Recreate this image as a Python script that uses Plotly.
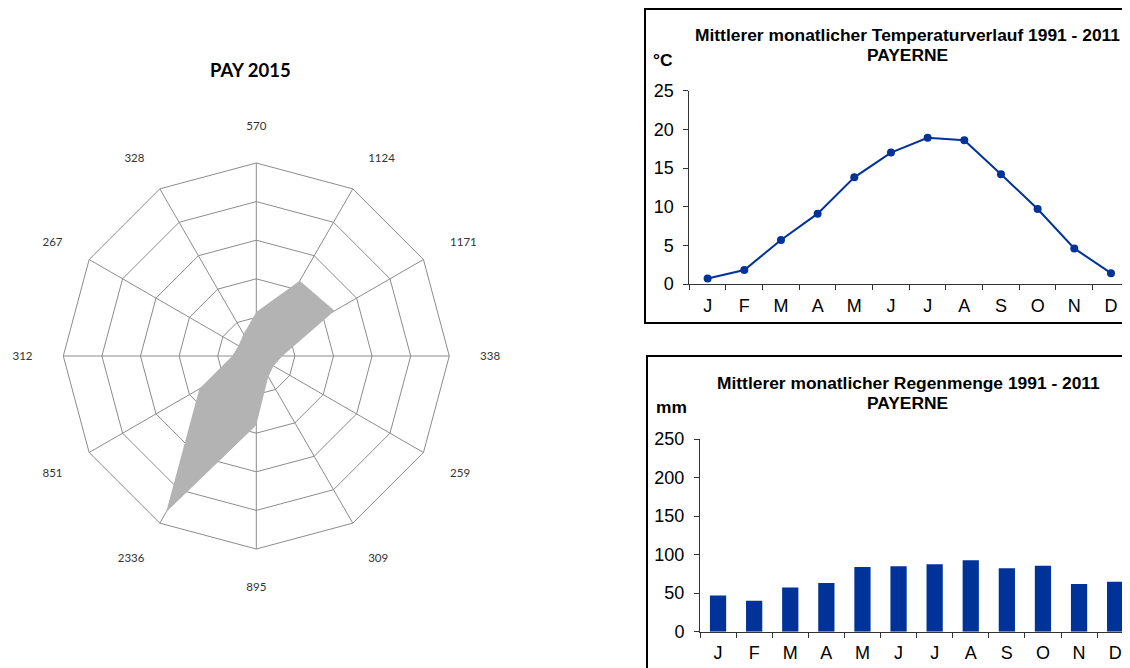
import plotly.graph_objects as go

# ---- data ----
radar_labels = ["570", "1124", "1171", "338", "259", "309", "895", "2336", "851", "312", "267", "328"]
radar_values = [570, 1124, 1171, 338, 259, 309, 895, 2336, 851, 312, 267, 328]

months = ["J", "F", "M", "A", "M ", "J ", "J  ", "A ", "S", "O", "N", "D"]
month_text = ["J", "F", "M", "A", "M", "J", "J", "A", "S", "O", "N", "D"]
temperature = [0.7, 1.8, 5.7, 9.1, 13.8, 17.0, 18.9, 18.6, 14.2, 9.7, 4.6, 1.4]
rainfall = [47.1, 40.2, 57.5, 63.1, 83.9, 84.8, 87.4, 92.6, 82.2, 85.6, 61.9, 64.9]

W, H = 1130, 668
OFF = 8  # page body margin


def px(x):
    return (x - OFF) / W


def py(y):
    return 1 - (y - OFF) / H


BLUE = "#003399"
GRID = "#8c8c8c"
ARIAL = "Liberation Sans, Arial, sans-serif"
CAL = "Lato, Open Sans, sans-serif"

fig = go.Figure()

# radar
fig.add_trace(go.Scatterpolar(
    r=radar_values, theta=radar_labels, fill="toself", mode="lines",
    line=dict(width=0, color="#b3b3b3"), fillcolor="#b3b3b3", subplot="polar",
    hoverinfo="r+theta"))

# temperature line
fig.add_trace(go.Scatter(
    x=months, y=temperature, mode="lines+markers",
    line=dict(color=BLUE, width=2), marker=dict(color=BLUE, size=8),
    xaxis="x", yaxis="y"))

# rainfall bars
fig.add_trace(go.Bar(
    x=months, y=rainfall, marker=dict(color=BLUE, line=dict(width=0)),
    width=0.45, xaxis="x2", yaxis="y2"))

R = 193
cx, cy = 256.3, 356
axis_common = dict(automargin=False, showgrid=False, zeroline=False, showline=True,
                   linecolor="#333", linewidth=1, ticks="outside", ticklen=5,
                   tickcolor="#333", tickfont=dict(family=ARIAL, size=18, color="black"))
fig.update_layout(
    template="none",
    width=W, height=H, margin=dict(l=0, r=0, t=0, b=0, pad=0),
    paper_bgcolor="white", plot_bgcolor="white", showlegend=False,
    polar=dict(
        domain=dict(x=[px(cx - R), px(cx + R)], y=[py(cy + R), py(cy - R)]),
        gridshape="linear", bgcolor="white",
        radialaxis=dict(range=[0, 2500], dtick=500, showticklabels=False,
                        ticks="", showline=False, gridcolor=GRID, gridwidth=1),
        angularaxis=dict(type="category", categoryarray=radar_labels,
                         direction="clockwise", rotation=90,
                         showline=True, linecolor=GRID, linewidth=1,
                         gridcolor=GRID, gridwidth=1,
                         ticks="outside", ticklen=28, tickcolor="rgba(0,0,0,0)",
                         tickfont=dict(family=CAL, size=11.5, color="#333333")),
    ),
    xaxis=dict(domain=[px(689.3), px(1129.3)], type="category", categoryarray=months,
               range=[-0.5, 11.5], tickson="boundaries", tickmode="array",
               tickvals=months, ticktext=month_text, anchor="y",
               ticklabelstandoff=5, **axis_common),
    yaxis=dict(domain=[py(284), py(90.7)], range=[0, 25], tickvals=[0, 5, 10, 15, 20, 25],
               anchor="x", ticklabelstandoff=6, **axis_common),
    xaxis2=dict(domain=[px(700), min(1.0, px(1133))], type="category", categoryarray=months,
                range=[-0.5, -0.5 + (min(1.0, px(1133)) - px(700)) * W / 36.1],
                tickson="boundaries", tickmode="array",
                tickvals=months, ticktext=month_text, anchor="y2",
                ticklabelstandoff=5, **axis_common),
    yaxis2=dict(domain=[py(631.7), py(439)], range=[0, 250], tickvals=[0, 50, 100, 150, 200, 250],
                anchor="x2", ticklabelstandoff=6, **axis_common),
)

shapes = [
    dict(type="rect", xref="paper", yref="paper", x0=px(645), x1=px(1145),
         y0=py(323), y1=py(9), line=dict(color="black", width=2), fillcolor="rgba(0,0,0,0)"),
    dict(type="rect", xref="paper", yref="paper", x0=px(647), x1=px(1145),
         y0=py(685), y1=py(356), line=dict(color="black", width=2), fillcolor="rgba(0,0,0,0)"),
]
fig.update_layout(shapes=shapes)


def ann(text, x, y, size, family=ARIAL, bold=True):
    t = "<b>%s</b>" % text if bold else text
    return dict(text=t, x=px(x), y=py(y), xref="paper", yref="paper",
                xanchor="center", yanchor="middle", showarrow=False,
                font=dict(family=family, size=size, color="black"))


fig.update_layout(annotations=[
    ann("PAY 2015", 250, 70, 18.5, family=CAL),
    ann("Mittlerer monatlicher Temperaturverlauf 1991 - 2011", 907, 35, 17.4),
    ann("PAYERNE", 907, 55, 17.4),
    ann("°C", 663, 60, 17.4),
    ann("Mittlerer monatlicher Regenmenge 1991 - 2011", 908, 383, 17.4),
    ann("PAYERNE", 907, 403, 17.4),
    ann("mm", 671, 407, 17.4),
])

fig.write_html("out.html")
